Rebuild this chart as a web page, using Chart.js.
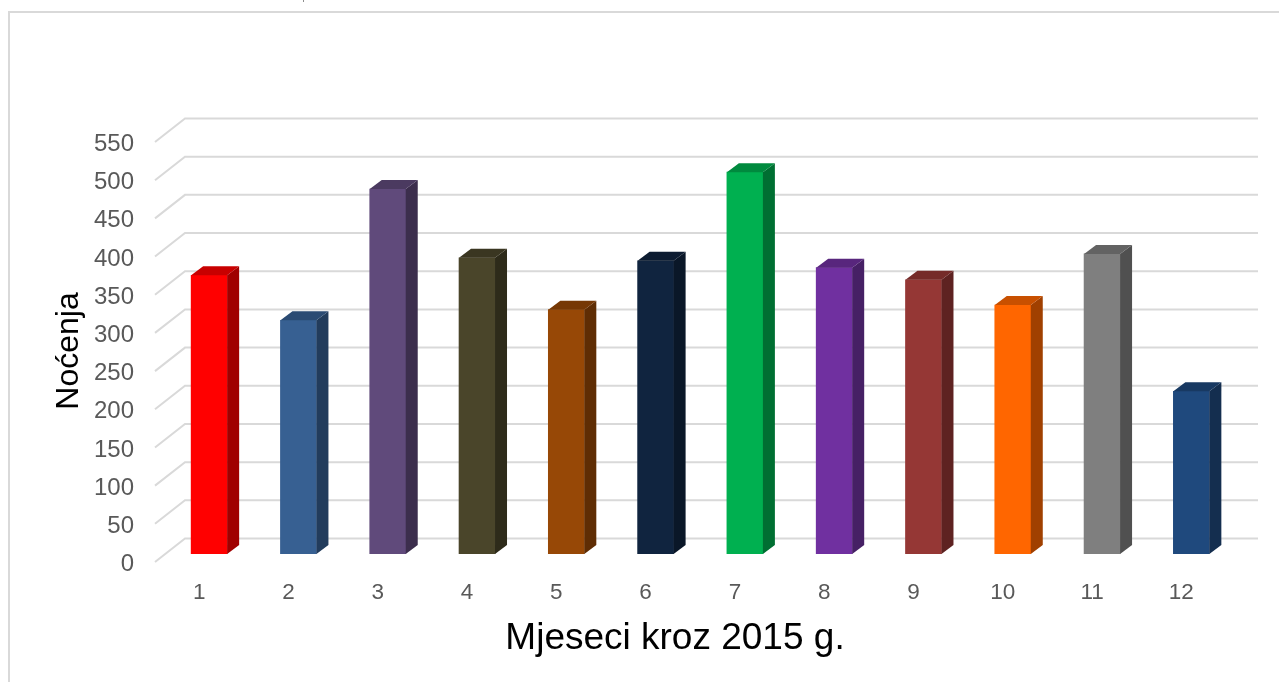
<!DOCTYPE html>
<html>
<head>
<meta charset="utf-8">
<title>Noćenja 2015</title>
<script src="https://cdn.jsdelivr.net/npm/chart.js@4/dist/chart.umd.min.js"></script>
<style>
  html, body { margin: 0; padding: 0; background: #fff; overflow: hidden; }
  canvas { display: block; }
</style>
</head>
<body>
<canvas id="chart" width="1279" height="682"></canvas>
<script>
const months = ['1', '2', '3', '4', '5', '6', '7', '8', '9', '10', '11', '12'];
const nights = [365, 306, 478, 388, 320, 384, 500, 375, 359, 326, 393, 213];
const frontColors = ['#FF0000', '#376092', '#604A7B', '#4A452A', '#974806', '#10243F', '#00B050', '#7030A0', '#953735', '#FF6600', '#7F7F7F', '#1F497D'];
const sideColors = ['#A00000', '#223C5C', '#3C2E4D', '#2E2B1A', '#5F2D04', '#0A1728', '#006F32', '#462065', '#5E2221', '#A04000', '#505050', '#142E4F'];
const topColors = ['#C80000', '#2B4B73', '#4B3A60', '#3A3621', '#763805', '#0D1C31', '#008A3E', '#58267D', '#752B29', '#C85000', '#636363', '#183962'];
const yMax = 550;
const yStep = 50;
const yTitle = 'Noćenja';
const xTitle = 'Mjeseci kroz 2015 g.';

// depth of the fake 3d
const barDepthX = 12;
const barDepthY = 9;
const gridLift = 15.5;

const fakeThreeD = {
  id: 'fakeThreeD',
  beforeDraw(chart) {
    const { ctx, width, height } = chart;
    ctx.save();
    ctx.strokeStyle = '#d9d9d9';
    ctx.lineWidth = 2;
    ctx.beginPath();
    ctx.moveTo(9, height);
    ctx.lineTo(9, 12);
    ctx.lineTo(width, 12);
    ctx.stroke();
    // tail of cropped text above the frame
    ctx.strokeStyle = '#8c8c8c';
    ctx.lineWidth = 1;
    ctx.beginPath();
    ctx.moveTo(303.5, 0);
    ctx.lineTo(303.5, 2);
    ctx.stroke();
    ctx.restore();
  },
  beforeDatasetsDraw(chart) {
    const { ctx } = chart;
    const y = chart.scales.y;
    ctx.save();
    ctx.strokeStyle = '#d9d9d9';
    ctx.lineWidth = 2;
    y.ticks.forEach((t) => {
      const py = y.getPixelForValue(t.value);
      ctx.beginPath();
      ctx.moveTo(155, py + 8);
      ctx.lineTo(185, py - gridLift);
      ctx.lineTo(1258, py - gridLift);
      ctx.stroke();
    });
    ctx.restore();
  },
  afterDatasetsDraw(chart) {
    const { ctx } = chart;
    ctx.save();
    chart.getDatasetMeta(0).data.forEach((bar, i) => {
      const l = bar.x - bar.width / 2;
      const r = bar.x + bar.width / 2;
      ctx.fillStyle = sideColors[i];
      ctx.beginPath();
      ctx.moveTo(r, bar.y);
      ctx.lineTo(r + barDepthX, bar.y - barDepthY);
      ctx.lineTo(r + barDepthX, bar.base - barDepthY);
      ctx.lineTo(r, bar.base);
      ctx.closePath();
      ctx.fill();
      ctx.fillStyle = topColors[i];
      ctx.beginPath();
      ctx.moveTo(l, bar.y);
      ctx.lineTo(l + barDepthX, bar.y - barDepthY);
      ctx.lineTo(r + barDepthX, bar.y - barDepthY);
      ctx.lineTo(r, bar.y);
      ctx.closePath();
      ctx.fill();
    });
    ctx.restore();
  },
  afterDraw(chart) {
    const { ctx } = chart;
    ctx.save();
    ctx.fillStyle = '#000';
    ctx.textAlign = 'center';
    ctx.textBaseline = 'middle';
    ctx.font = '37px "Liberation Sans", Arial, sans-serif';
    ctx.fillText(xTitle, 675, 639);
    ctx.translate(69, 351);
    ctx.rotate(-Math.PI / 2);
    ctx.font = '32px "Liberation Sans", Arial, sans-serif';
    ctx.fillText(yTitle, 0, 0);
    ctx.restore();
  }
};

new Chart(document.getElementById('chart'), {
  type: 'bar',
  data: {
    labels: months,
    datasets: [{
      label: yTitle,
      data: nights,
      backgroundColor: frontColors,
      barThickness: 36
    }]
  },
  options: {
    responsive: false,
    animation: false,
    layout: { padding: { top: 134, right: 43, bottom: 0, left: 0 } },
    plugins: {
      legend: { display: false },
      tooltip: { enabled: false }
    },
    scales: {
      x: {
        afterFit: (s) => { s.height = 128; },
        grid: { display: false },
        border: { display: false },
        ticks: {
          color: '#595959',
          padding: 17,
          labelOffset: -10,
          font: { family: '"Liberation Sans", Arial, sans-serif', size: 22.5 }
        }
      },
      y: {
        min: 0,
        max: yMax,
        afterFit: (s) => { s.width = 164.5; },
        grid: { display: false },
        border: { display: false },
        ticks: {
          stepSize: yStep,
          color: '#595959',
          padding: 22.5,
          labelOffset: 10.5,
          font: { family: '"Liberation Sans", Arial, sans-serif', size: 24 }
        }
      }
    }
  },
  plugins: [fakeThreeD]
});
</script>
</body>
</html>
